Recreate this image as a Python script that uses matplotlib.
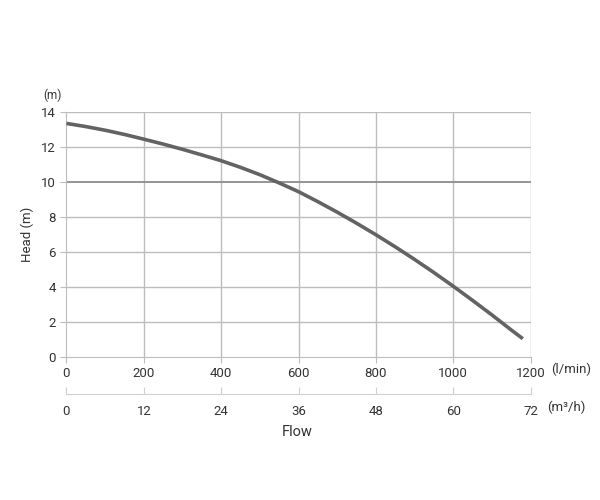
import matplotlib
matplotlib.use("Agg")
import matplotlib.pyplot as plt

plt.rcParams['font.family'] = ['Roboto', 'DejaVu Sans']

# curve
flow_lmin = [0, 50, 100, 150, 200, 250, 300, 350, 400, 450, 500, 550, 600,
             650, 700, 750, 800, 850, 900, 950, 1000, 1050, 1100, 1150, 1180]
head_m = [13.33, 13.15, 12.94, 12.70, 12.43, 12.15, 11.85, 11.53, 11.2, 10.82, 10.40, 9.93, 9.43,
          8.86, 8.26, 7.63, 6.97, 6.28, 5.56, 4.81, 4.03, 3.22, 2.39, 1.53, 1.03]

lmin_ticks = [0, 200, 400, 600, 800, 1000, 1200]
m3h_ticks = [0, 12, 24, 36, 48, 60, 72]
head_ticks = [0, 2, 4, 6, 8, 10, 12, 14]

grid_c = '#bdbdbd'
txt_c = '#333333'

fig = plt.figure(figsize=(6, 5), dpi=100)
ax = fig.add_axes([0.1108, 0.2866, 0.7734, 0.49])

for t in lmin_ticks[1:]:
    ax.axvline(t, color=grid_c, lw=1, zorder=1)
for t in head_ticks[1:]:
    ax.axhline(t, color='#8c8c8c' if t == 10 else grid_c, lw=1.3 if t == 10 else 1, zorder=1)

ax.plot(flow_lmin, head_m, color='#636363', lw=2.6, zorder=3, solid_capstyle='butt')

ax.set_xlim(0, 1200)
ax.set_ylim(0, 14)
ax.set_xticks(lmin_ticks)
ax.set_yticks(head_ticks)
for s in ['top', 'right']:
    ax.spines[s].set_visible(False)
for s in ['left', 'bottom']:
    ax.spines[s].set_color(grid_c)
ax.tick_params(colors=grid_c, labelcolor=txt_c, labelsize=9.5, length=4)
ax.set_ylabel('Head (m)', fontsize=9.5, color=txt_c, labelpad=5)
ax.text(-0.03, 1.04, '(m)', transform=ax.transAxes, ha='center', va='bottom',
        fontsize=8.5, color=txt_c)
ax.text(1.045, -0.052, '(l/min)', transform=ax.transAxes, ha='left', va='center',
        fontsize=9.5, color=txt_c)

# second flow axis in m3/h
ax2 = fig.add_axes([0.1108, 0.212, 0.7734, 0.001])
ax2.set_xlim(0, 72)
ax2.set_xticks(m3h_ticks)
ax2.set_yticks([])
for s in ['top', 'right', 'left']:
    ax2.spines[s].set_visible(False)
ax2.spines['bottom'].set_color('#d0d0d0')
ax2.tick_params(axis='x', direction='in', colors='#d0d0d0', labelcolor=txt_c,
                labelsize=9.5, length=5, pad=8)
ax2.patch.set_visible(False)
fig.text(0.912, 0.186, '(m³/h)', ha='left', va='center', fontsize=9.5, color=txt_c)

fig.text(0.495, 0.136, 'Flow', ha='center', va='center', fontsize=10.5, color=txt_c)

fig.savefig('out.png', dpi=100)
